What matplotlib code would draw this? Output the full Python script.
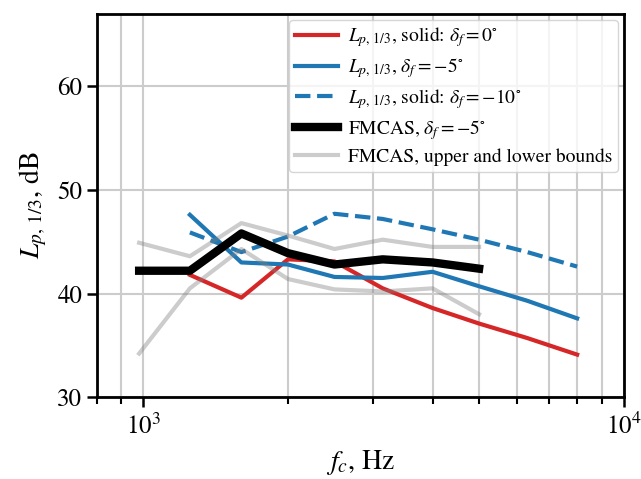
import numpy as np
import matplotlib.pyplot as plt

plt.rcParams['font.family'] = 'STIXGeneral'
plt.rcParams['mathtext.fontset'] = 'stix'

f_fmcas = [980, 1250, 1600, 2000, 2500, 3150, 4000, 5000]
f_lp = [1250, 1600, 2000, 2500, 3150, 4000, 5000, 6300, 8000]

lp_d0 = [41.8, 39.6, 43.3, 43.1, 40.5, 38.6, 37.1, 35.7, 34.1]
lp_d5 = [47.6, 43.0, 42.8, 41.6, 41.5, 42.1, 40.7, 39.3, 37.6]
lp_d10 = [45.9, 44.0, 45.5, 47.7, 47.2, 46.2, 45.2, 44.0, 42.6]

fmcas = [42.2, 42.2, 45.8, 43.9, 42.8, 43.3, 43.0, 42.4]
fmcas_up = [44.9, 43.6, 46.8, 45.6, 44.3, 45.2, 44.5, 44.5]
fmcas_lo = [34.2, 40.5, 44.3, 41.4, 40.4, 40.2, 40.5, 38.0]

fig = plt.figure(figsize=(6.41, 4.79), dpi=100)
ax = fig.add_axes([0.151, 0.171, 0.822, 0.800])

ax.plot(f_lp, lp_d0, color='#d62728', lw=3, label=r'$L_{p,\,1/3}$, solid: $\delta_f = 0^{\circ}$')
ax.plot(f_lp, lp_d5, color='#1f77b4', lw=3, label=r'$L_{p,\,1/3}$, $\delta_f = -5^{\circ}$')
ax.plot(f_lp, lp_d10, '--', color='#1f77b4', lw=3, label=r'$L_{p,\,1/3}$, solid: $\delta_f = -10^{\circ}$')
ax.plot(f_fmcas, fmcas, color='black', lw=6, label=r'FMCAS, $\delta_f = -5^{\circ}$')
ax.plot(f_fmcas, fmcas_up, color='gray', alpha=0.4, lw=3, label='FMCAS, upper and lower bounds')
ax.plot(f_fmcas, fmcas_lo, color='gray', alpha=0.4, lw=3)

ax.set_xscale('log')
ax.set_xlim(800, 10000)
ax.set_ylim(30, 67)
ax.set_yticks([30, 40, 50, 60])
ax.grid(True, which='both', color='#cccccc', lw=1.5)
for s in ax.spines.values():
    s.set_linewidth(2)
ax.tick_params(which='major', labelsize=18, width=1.8, length=7)
ax.tick_params(which='minor', width=1.5, length=5)
ax.tick_params(axis='x', which='major', pad=5)
ax.set_xlabel(r'$f_c$, Hz', fontsize=20, labelpad=6)
ax.set_ylabel(r'$L_{p,\,1/3}$, dB', fontsize=20, labelpad=6)
ax.legend(loc='upper right', fontsize=14, framealpha=0.8, handlelength=2.2,
          borderaxespad=0.3, labelspacing=0.35, borderpad=0.3, handletextpad=0.5)

fig.savefig('out.png', dpi=100)
